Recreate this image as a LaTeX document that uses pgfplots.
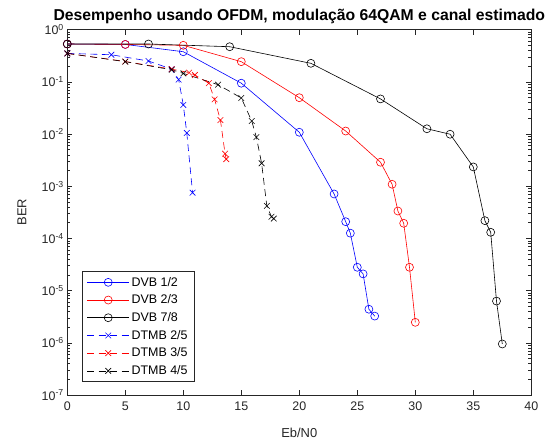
\documentclass[border=0pt]{standalone}
\usepackage{fontspec}
\setmainfont{Liberation Sans}
\usepackage{pgfplots}
\pgfplotsset{compat=1.18}

\begin{document}
\begin{tikzpicture}
\useasboundingbox (-67.3bp,-47bp) rectangle (486.7bp,395bp);
\begin{axis}[
  at={(0,0)}, anchor=south west,
  scale only axis, width=464bp, height=365.4bp,
  ymode=log, xmin=0, xmax=40, ymin=1e-7, ymax=1,
  xtick={0,5,10,15,20,25,30,35,40},
  ytick={1e-7,1e-6,1e-5,1e-4,1e-3,1e-2,1e-1,1},
  yticklabels={10\textsuperscript{-7},10\textsuperscript{-6},10\textsuperscript{-5},10\textsuperscript{-4},10\textsuperscript{-3},10\textsuperscript{-2},10\textsuperscript{-1},10\textsuperscript{0}},
  /pgf/number format/assume math mode=true,
  tick align=inside, tick pos=both,
  major tick length=5bp, minor tick length=3bp,
  axis line style={black!85, line width=0.6bp},
  tick style={black!85, line width=0.5bp},
  tick label style={font=\fontsize{12.5}{14}\selectfont, text=black!85},
  xticklabel style={yshift=-3bp},
  xlabel={Eb/N0},
  ylabel={BER},
  xlabel style={at={(axis description cs:0.5,0)}, anchor=center, yshift=-37.7bp, font=\fontsize{13}{15}\selectfont, text=black!85},
  every axis y label/.style={at={(axis description cs:-0.0976,0.5)}, anchor=center, rotate=90, font=\fontsize{13}{15}\selectfont, text=black!85},
  every axis title/.style={at={(rel axis cs:0.5,1)}, anchor=base, yshift=8.9bp, font=\bfseries\fontsize{15.8}{17}\selectfont},
  title={Desempenho usando OFDM, modulação 64QAM e canal estimado},
  legend style={at={(0.031,0.036)}, anchor=south west, draw=black!85, line width=0.5bp,
    font=\fontsize{12.5}{14}\selectfont, row sep=3.2bp, inner xsep=5bp, inner ysep=3.5bp},
  legend cell align=left,
  legend image code/.code={\draw[mark repeat=2, mark phase=2, #1] plot coordinates {(0bp,0bp) (21bp,0bp) (42bp,0bp)};},
  every axis plot/.append style={line width=0.6bp},
]
% DVB 1/2
\addplot[blue, mark=o, mark size=4bp, mark options={solid}] coordinates {
(0,0.53) (5,0.52) (10,0.377) (15,0.094) (20,0.0108) (23,7.1e-4) (24,2.09e-4) (24.4,1.26e-4)
(25,2.8e-5) (25.5,2.09e-5) (26,4.4e-6) (26.5,3.25e-6)};
% DVB 2/3
\addplot[red, mark=o, mark size=4bp, mark options={solid}] coordinates {
(0,0.53) (5,0.52) (10,0.50) (15,0.243) (20,0.0496) (24,0.0114) (27,2.88e-3) (28,1.09e-3)
(28.5,3.35e-4) (29,1.95e-4) (29.5,2.8e-5) (30,2.47e-6)};
% DVB 7/8
\addplot[black, mark=o, mark size=4bp, mark options={solid}] coordinates {
(0,0.53) (7,0.53) (14,0.47) (21,0.226) (27,0.047) (31,0.0126) (33,9.9e-3) (35,2.34e-3)
(36,2.19e-4) (36.5,1.31e-4) (37,6.3e-6) (37.5,9.5e-7)};
% DTMB 2/5
\addplot[blue, dash pattern=on 7bp off 4.5bp, mark=x, mark size=4bp, mark options={solid}] coordinates {
(0,0.35) (3.8,0.33) (7,0.25) (9,0.175) (9.6,0.11) (10,0.036) (10.3,0.0105) (10.8,7.5e-4)};
% DTMB 3/5
\addplot[red, dash pattern=on 7bp off 4.5bp, mark=x, mark size=4bp, mark options={solid}] coordinates {
(0,0.35) (5,0.245) (9,0.175) (10.5,0.15) (11,0.135) (12.2,0.094) (12.7,0.046) (13.2,0.0185)
(13.6,4.2e-3) (13.7,3.3e-3)};
% DTMB 4/5
\addplot[black, dash pattern=on 7bp off 4.5bp, mark=x, mark size=4bp, mark options={solid}] coordinates {
(0,0.35) (5,0.243) (9,0.17) (10,0.145) (13,0.088) (15,0.049) (15.9,0.0177) (16.3,8.7e-3)
(16.75,2.75e-3) (17.2,4.2e-4) (17.6,2.6e-4) (17.8,2.4e-4)};
\legend{DVB 1/2, DVB 2/3, DVB 7/8, DTMB 2/5, DTMB 3/5, DTMB 4/5}
\end{axis}
\end{tikzpicture}
\end{document}
